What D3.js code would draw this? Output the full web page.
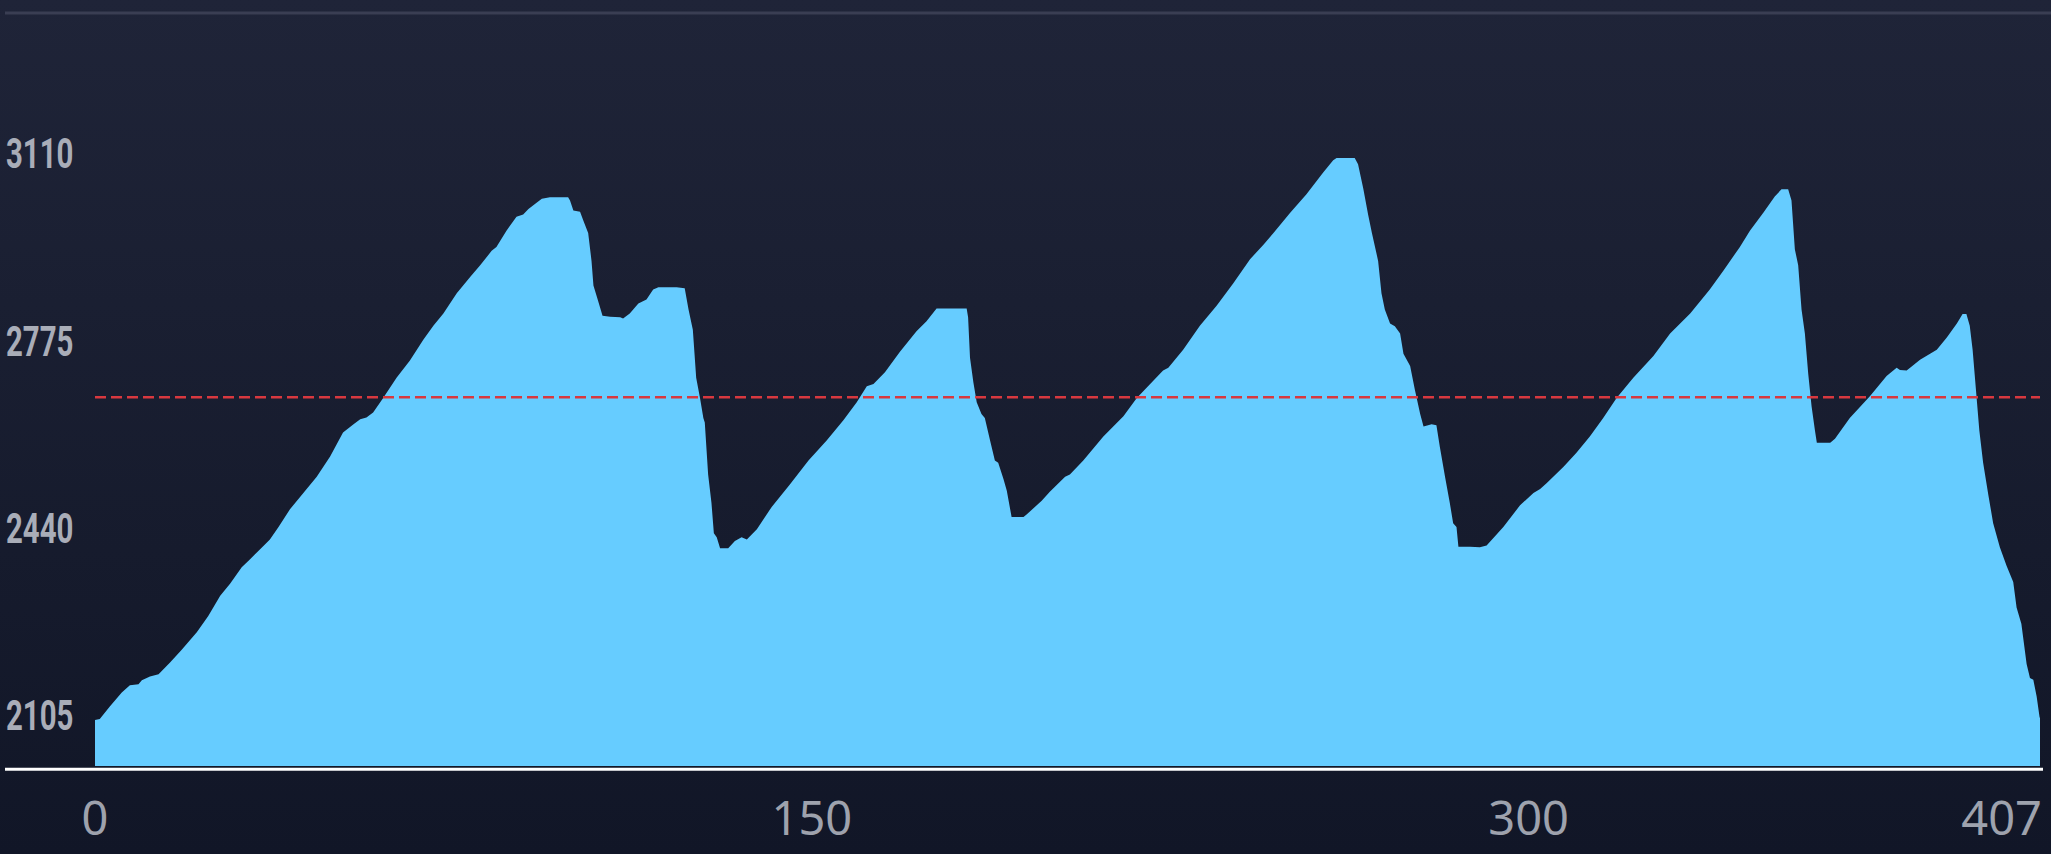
<!DOCTYPE html>
<html>
<head>
<meta charset="utf-8">
<script src="https://cdn.jsdelivr.net/npm/d3@7/dist/d3.min.js"></script>
<style>
  html, body { margin: 0; padding: 0; overflow: hidden; background: #171c2f; }
  svg { display: block; }
</style>
</head>
<body>
<svg id="chart" width="2051" height="854"></svg>
<script>
// ---- data ----
const distance = [
  0, 1.0, 3.1, 5.6, 7.3, 9.1, 9.8, 11.5, 13.3, 15.7, 18.1, 21.3, 23.7, 26.2, 28.3, 30.7, 32.4, 34.5, 36.6, 38.4,
  40.8, 43.6, 46.4, 49.2, 51.9, 54.1, 55.5, 56.8, 58.2, 60.3, 63.1, 65.9,
  68.7, 70.8, 72.9, 75.7, 78.5, 80.6, 83.0, 84.0, 86.1, 88.2, 89.6, 90.7, 92.4, 93.5, 95.2, 99.0, 99.4, 100.1,
  101.5, 102.2, 103.2, 103.9, 104.3, 105.3, 106.2, 107.8, 109.9, 110.5, 111.9, 113.7, 115.4, 116.8, 117.9, 121.7,
  123.4, 124.2, 125.1, 125.8, 126.6, 127.3, 127.6, 128.3, 129.0, 129.5, 130.1, 130.8, 132.5,
  133.9, 135.3, 136.4, 138.5, 141.6, 145.4, 149.3, 153.1, 156.6, 159.4, 161.5, 162.9, 165.3, 168.4, 171.9, 174.0,
  176.1, 182.4, 182.7, 183.1, 183.8, 184.5, 185.5, 186.2, 187.3, 188.3, 189.0, 190.1, 190.8, 191.8, 194.3, 195.0, 198.1,
  199.8, 203.0, 204.0, 206.8, 211.0, 215.2, 218.0, 220.8, 223.5, 224.6, 227.7, 231.2, 234.7, 238.2, 241.7, 244.5,
  246.6, 250.1, 253.5, 257.0, 259.1, 259.8, 263.6, 264.3, 265.4, 266.4,
  267.2, 268.5, 269.2, 269.9, 271.0, 272.0, 273.1, 273.8, 275.2, 276.2, 277.3, 278.0, 279.7, 280.7, 281.4, 282.5,
  283.5, 284.2, 284.9, 285.3, 287.7, 289.8, 291.2, 294.7, 298.2, 301.0, 302.4, 303.8, 307.3, 310.0, 312.8, 315.6,
  318.4, 321.9, 326.1, 329.6, 331.7, 333.8,
  337.9, 340.7, 344.2, 346.3, 349.1, 351.5, 352.9, 354.3, 355.0, 355.7, 356.4, 357.1, 357.8, 358.5, 359.2, 359.9,
  360.3, 363.1, 364.1, 367.2, 371.4, 374.9, 377.0, 377.7, 379.1, 381.9, 384.0, 385.4, 387.5, 389.6, 390.8, 391.6,
  392.3, 392.9, 393.6, 394.3, 395.1, 396.2, 397.2, 398.6, 400.0, 401.4, 402.1, 403.1, 404.2, 404.9, 405.6, 406.3,
  406.9, 407
];
const elevation = [
  2105, 2107, 2129, 2154, 2167, 2169, 2176, 2183, 2187, 2208, 2230, 2262, 2291, 2327, 2349, 2378, 2392, 2410, 2428, 2450,
  2482, 2511, 2540, 2576, 2619, 2634, 2643, 2646, 2655, 2681, 2717, 2748,
  2785, 2810, 2832, 2868, 2897, 2918, 2944, 2951, 2980, 3005, 3009, 3019, 3030, 3037, 3040, 3040, 3034, 3016,
  3014, 2998, 2976, 2926, 2882, 2854, 2828, 2826, 2825, 2823, 2832, 2850, 2857, 2875, 2879, 2879,
  2877, 2839, 2803, 2717, 2681, 2645, 2637, 2544, 2493, 2439, 2432, 2412, 2412,
  2425, 2432, 2428, 2446, 2486, 2526, 2569, 2605, 2641, 2673, 2702, 2706, 2727, 2763, 2800, 2818,
  2841, 2841, 2825, 2753, 2709, 2673, 2652, 2645, 2605, 2569, 2565, 2536, 2515, 2468, 2468, 2473, 2497,
  2513, 2540, 2544, 2569, 2612, 2648, 2681, 2706, 2730, 2735, 2767, 2810, 2846, 2886, 2929, 2955,
  2976, 3012, 3045, 3084, 3106, 3110, 3110, 3099, 3055, 3009,
  2976, 2926, 2868, 2839, 2814, 2809, 2796, 2760, 2738, 2695, 2652, 2630, 2634, 2632, 2594, 2540,
  2493, 2457, 2450, 2415, 2415, 2414, 2417, 2450, 2489, 2511, 2518, 2529, 2558, 2583, 2612, 2645,
  2681, 2717, 2756, 2796, 2814, 2832,
  2875, 2908, 2951, 2980, 3012, 3041, 3054, 3054, 3034, 2947, 2918, 2839, 2796, 2724, 2666, 2623,
  2601, 2601, 2608, 2645, 2684, 2720, 2735, 2731, 2730, 2749, 2760, 2767, 2789, 2814, 2831, 2831,
  2810, 2767, 2695, 2623, 2565, 2507, 2457, 2414, 2381, 2352, 2306, 2277, 2205, 2180, 2177, 2147,
  2111, 2108
];
const xTickValues = [0, 150, 300, 407];
const yTickValues = [2105, 2440, 2775, 3110];
const averageElevation = 2682;

// ---- layout ----
const W = 2051, H = 854;
const plotLeft = 95, plotRight = 2040, plotBottom = 766;
const svg = d3.select("#chart");

const defs = svg.append("defs");
const grad = defs.append("linearGradient").attr("id", "bg").attr("x1", 0).attr("y1", 0).attr("x2", 0).attr("y2", 1);
grad.append("stop").attr("offset", "0%").attr("stop-color", "#1f2438");
grad.append("stop").attr("offset", "100%").attr("stop-color", "#111627");
svg.append("rect").attr("width", W).attr("height", H).attr("fill", "url(#bg)");

// top separator line
svg.append("line").attr("x1", 5).attr("x2", W).attr("y1", 13).attr("y2", 13)
  .attr("stroke", "#3a3e53").attr("stroke-width", 3);

const x = d3.scaleLinear().domain([0, 407]).range([plotLeft, plotRight]);
const y = d3.scaleLinear().domain([2105, 3110]).range([720, 158]);

const pts = distance.map((d, i) => ({ d, e: elevation[i] }));
const area = d3.area()
  .x(p => x(p.d))
  .y0(plotBottom)
  .y1(p => y(p.e))
  .curve(d3.curveLinear);

svg.append("path").datum(pts).attr("d", area).attr("fill", "#66ccff");

// average line
svg.append("line")
  .attr("x1", x(0)).attr("x2", x(407))
  .attr("y1", y(averageElevation)).attr("y2", y(averageElevation))
  .attr("stroke", "#d8383f").attr("stroke-width", 2.5)
  .attr("stroke-dasharray", "11,5");

// bottom axis line
svg.append("line").attr("x1", 5).attr("x2", 2043).attr("y1", 769.2).attr("y2", 769.2)
  .attr("stroke", "#ffffff").attr("stroke-width", 3);

// y labels
const yAxis = svg.append("g");
yAxis.selectAll("text").data(yTickValues).enter().append("text")
  .attr("transform", v => `translate(6,${y(v) - 4}) scale(0.7,1)`)
  .attr("dominant-baseline", "central")
  .attr("font-family", "Roboto, 'DejaVu Sans', sans-serif")
  .attr("font-weight", 700)
  .attr("font-size", 42)
  .attr("fill", "#a9adb8")
  .text(v => v);

// x labels
const xAxis = svg.append("g");
xAxis.selectAll("text").data(xTickValues).enter().append("text")
  .attr("x", (v, i) => i === xTickValues.length - 1 ? 2042 : x(v))
  .attr("y", 835)
  .attr("text-anchor", (v, i) => i === xTickValues.length - 1 ? "end" : "middle")
  .attr("font-family", "'Noto Sans', Roboto, sans-serif")
  .attr("font-size", 47)
  .attr("fill", "#9ea2ad")
  .text(v => v);
</script>
</body>
</html>
